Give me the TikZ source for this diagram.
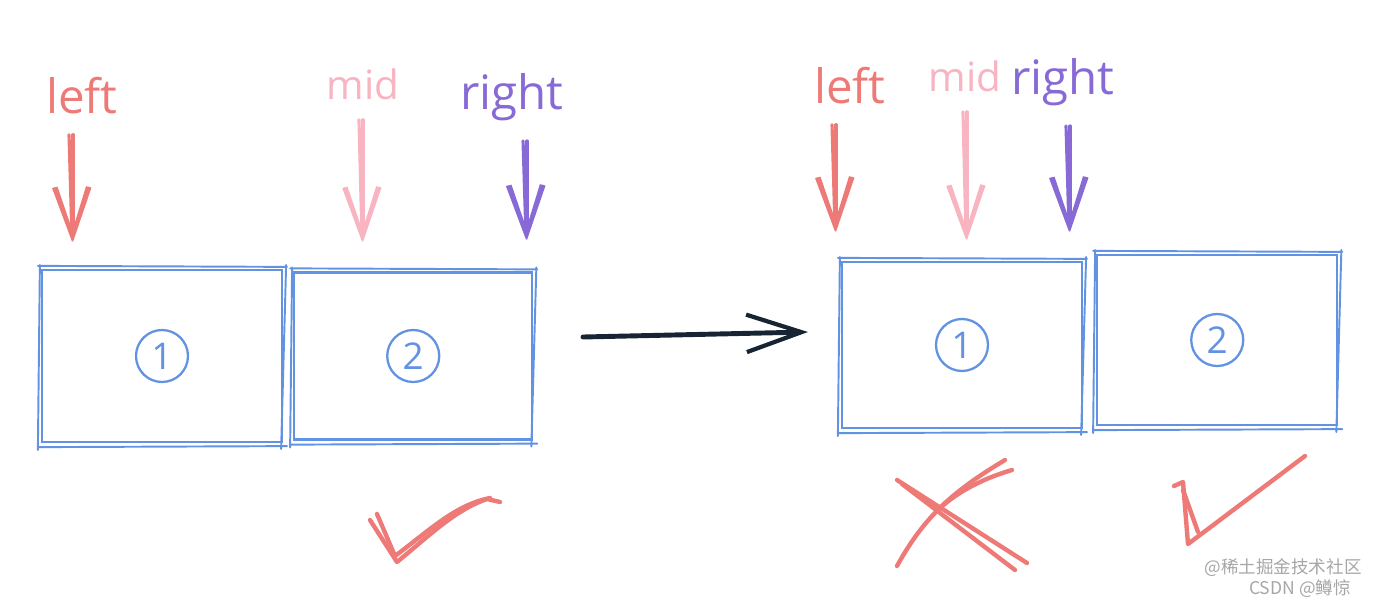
\documentclass[tikz,border=0pt]{standalone}
\usepackage{fontspec}
\setmainfont{Open Sans}
\newfontfamily\cjkfont{Noto Sans CJK SC}
\usetikzlibrary{positioning, arrows.meta}
\definecolor{coralcol}{RGB}{238, 122, 120}
\definecolor{pinkcol}{RGB}{248, 180, 192}
\definecolor{violetcol}{RGB}{136, 106, 214}
\definecolor{boxcol}{RGB}{98, 146, 226}
\definecolor{inkcol}{RGB}{22, 36, 52}
\tikzset{
  word/.style={font=\fontsize{27}{30}\selectfont},
  cell/.style={draw=boxcol, line width=1.3pt, minimum width=4.8cm, minimum height=3.4cm},
  sketch/.style={boxcol, line width=1.1pt, line cap=round},
  idx/.style={circle, draw=boxcol, text=boxcol, line width=1.3pt, minimum size=1.04cm,
              inner sep=0pt, font=\fontsize{21}{24}\selectfont},
  ptr/.style={line width=1.8pt, line cap=round, shorten <=8pt,
              -{Straight Barb[length=1cm, width=0.68cm, line width=1.8pt]}},
  move/.style={inkcol, line width=2.8pt, line cap=round,
               -{Straight Barb[length=1.1cm, width=0.75cm, line width=2.4pt]}},
  penmark/.style={coralcol, line width=2.5pt, line cap=round, line join=round},
  stamp/.style={font=\cjkfont\fontsize{10}{11}\selectfont, text=black!35},
}

\begin{document}
\begin{tikzpicture}[x=0.02cm, y=-0.02cm]
  \useasboundingbox (0,0) rectangle (1380,602);

  % before the move
  \node[cell, minimum height=3.44cm] (b1) at (162,356) {};
  \node[cell, minimum width=4.76cm, minimum height=3.34cm, right=0.2cm of b1] (b2) {};
  \node[idx] (n1) at (b1.center) {1};
  \node[idx] (n2) at (b2.center) {2};

  \node[word, text=coralcol]  (l1) at (82,96)  {left};
  \node[word, text=pinkcol, font=\fontsize{23}{26}\selectfont] (m1) at (363,84) {mid};
  \node[word, text=violetcol] (r1) at (512,97) {right};
  \coordinate (l1tip) at (73,242);
  \coordinate (m1tip) at (363,242);
  \coordinate (r1tip) at (527,240);
  \draw[ptr, coralcol]  (l1.south -| l1tip) -- (l1tip);
  \draw[ptr, coralcol]  ([xshift=-2.5pt]l1.south -| l1tip) -- ([xshift=-0.5pt]l1tip);
  \draw[ptr, pinkcol]   (m1.south -| m1tip) -- (m1tip);
  \draw[ptr, pinkcol]   ([xshift=-2.5pt]m1.south -| m1tip) -- ([xshift=-0.5pt]m1tip);
  \draw[ptr, violetcol] (r1.south -| r1tip) -- (r1tip);
  \draw[ptr, violetcol] ([xshift=-2.5pt]r1.south -| r1tip) -- ([xshift=-0.5pt]r1tip);

  % the move
  \coordinate (go0) at (583,337);
  \coordinate (go1) at (808,332);
  \draw[move] (go0) -- (go1);

  % after the move
  \node[cell, minimum height=3.32cm] (c1) at (962,345) {};
  \node[cell, minimum height=3.4cm, right=0.26cm of c1, yshift=0.1cm] (c2) {};
  \node[idx] (k1) at (c1.center) {1};
  \node[idx] (k2) at (c2.center) {2};

  \node[word, text=coralcol]  (l2) at (850,86)  {left};
  \node[word, text=pinkcol, font=\fontsize{23}{26}\selectfont] (m2) at (965,76) {mid};
  \node[word, text=violetcol] (r2) at (1063,82) {right};
  \coordinate (l2tip) at (836,232);
  \coordinate (m2tip) at (967,240);
  \coordinate (r2tip) at (1070,232);
  \draw[ptr, coralcol]  (l2.south -| l2tip) -- (l2tip);
  \draw[ptr, coralcol]  ([xshift=-2.5pt]l2.south -| l2tip) -- ([xshift=-0.5pt]l2tip);
  \draw[ptr, pinkcol]   (m2.south -| m2tip) -- (m2tip);
  \draw[ptr, pinkcol]   ([xshift=-2.5pt]m2.south -| m2tip) -- ([xshift=-0.5pt]m2tip);
  \draw[ptr, violetcol] (r2.south -| r2tip) -- (r2tip);
  \draw[ptr, violetcol] ([xshift=-2.5pt]r2.south -| r2tip) -- ([xshift=-0.5pt]r2tip);

  % second pen strokes round the boxes
  \foreach \b in {b1, b2, c1, c2} {
    \draw[sketch] ([shift={(-3,-3)}]\b.north west) -- ([shift={(4,-2)}]\b.north east)
                  ([shift={(3,-4)}]\b.north east) -- ([shift={(-2,6)}]\b.south east)
                  ([shift={(4,3)}]\b.south east)  -- ([shift={(-3,4)}]\b.south west)
                  ([shift={(-3,7)}]\b.south west) -- ([shift={(-1,-4)}]\b.north west);
  }

  % verdicts
  \draw[penmark] (370,520) -- (397,562) .. controls (430,535) and (455,510) .. (487,499) -- (500,502);
  \draw[penmark] (377,514) -- (395,556) .. controls (430,530) and (455,505) .. (490,498);

  \draw[penmark] (897,480) -- (1027,563);
  \draw[penmark] (902,484) -- (1015,570);
  \draw[penmark] (897,566) .. controls (925,515) and (955,490) .. (1005,460);
  \draw[penmark] (940,508) .. controls (960,490) and (985,478) .. (1012,470);

  \draw[penmark] (1174,486) -- (1183,482) -- (1188,544) -- (1305,456);
  \draw[penmark] (1183,490) -- (1198,532);

  \node[stamp] (wm1) at (1283,568) {@稀土掘金技术社区};
  \node[stamp] (wm2) at (1300,589) {CSDN @鳟惊};
\end{tikzpicture}
\end{document}
